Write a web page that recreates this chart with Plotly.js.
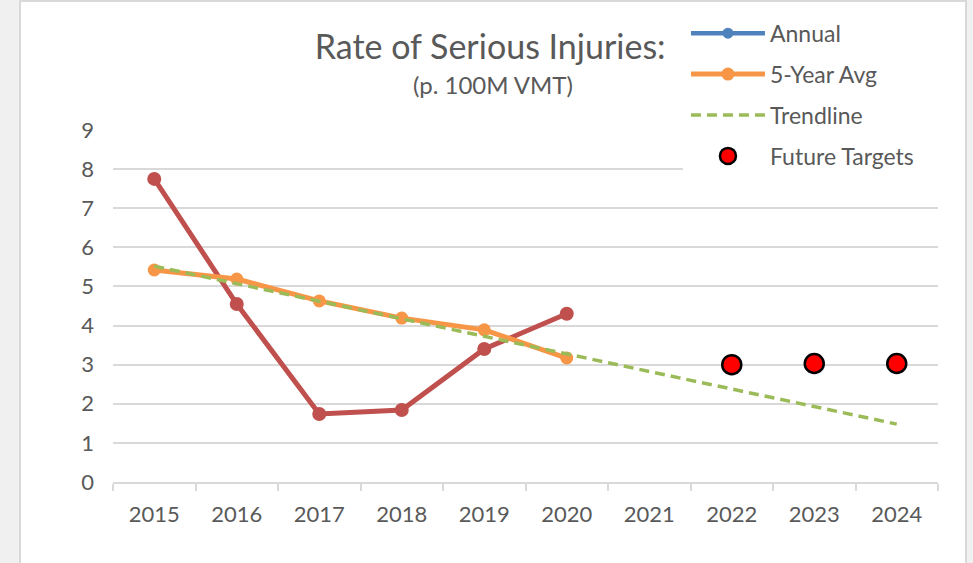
<!DOCTYPE html>
<html>
<head>
<meta charset="utf-8">
<script src="https://cdn.plot.ly/plotly-3.0.1.min.js"></script>
<style>
  html, body { margin: 0; padding: 0; background: #f0f0f0; width: 973px; height: 563px; overflow: hidden; }
  #frame { position: absolute; left: 19px; top: 0; width: 944px; height: 561px;
           border-top: 2px solid #d9d9d9; border-left: 2px solid #d9d9d9; border-right: 2px solid #d9d9d9;
           background: #ffffff; }
  #chart { width: 944px; height: 561px; }
</style>
</head>
<body>
<div id="frame"><div id="chart"></div></div>
<script>
// ---- data ----
const years = ['2015', '2016', '2017', '2018', '2019', '2020', '2021', '2022', '2023', '2024'];
const annualYears = ['2015', '2016', '2017', '2018', '2019', '2020'];
const annual = [7.75, 4.55, 1.74, 1.84, 3.40, 4.30];
const avgYears = ['2015', '2016', '2017', '2018', '2019', '2020'];
const fiveYearAvg = [5.42, 5.19, 4.63, 4.19, 3.89, 3.17];
const trendYears = ['2015', '2024'];
const trendline = [5.52, 1.48];
const targetYears = ['2022', '2023', '2024'];
const targets = [3.00, 3.03, 3.03];
const yTicks = [0, 1, 2, 3, 4, 5, 6, 7, 8, 9];

const FONT = 'Lato, Carlito, Calibri, sans-serif';
const TXT = '#595959';
const GRID = '#d9d9d9';

const traces = [
  { // legend entry for Annual (shown blue in the legend)
    type: 'scatter', mode: 'lines+markers', name: 'Annual',
    x: [null], y: [null], legendgroup: 'g1',
    line: { color: '#4F81BD', width: 4.5 }, marker: { color: '#4F81BD', size: 11 }
  },
  {
    type: 'scatter', mode: 'lines+markers', name: 'Annual data',
    x: annualYears, y: annual, showlegend: false, cliponaxis: false,
    line: { color: '#C0504D', width: 5 }, marker: { color: '#C0504D', size: 14 }
  },
  {
    type: 'scatter', mode: 'lines+markers', name: '5-Year Avg',
    x: avgYears, y: fiveYearAvg, legendgroup: 'g2', cliponaxis: false,
    line: { color: '#F79646', width: 5 }, marker: { color: '#F79646', size: 13 }
  },
  {
    type: 'scatter', mode: 'lines', name: 'Trendline',
    x: trendYears, y: trendline, legendgroup: 'g3', cliponaxis: false,
    line: { color: '#9BBB59', width: 3.5, dash: '10px,6px' }
  },
  {
    type: 'scatter', mode: 'markers', name: 'Future Targets',
    x: targetYears, y: targets, legendgroup: 'g4', cliponaxis: false,
    marker: { color: '#FF0000', size: 19, line: { color: '#000000', width: 2.5 } }
  }
];

const layout = {
  width: 944, height: 561,
  margin: { l: 92, r: 27, t: 128, b: 81, autoexpand: false },
  paper_bgcolor: '#ffffff', plot_bgcolor: '#ffffff',
  font: { family: FONT, color: TXT },
  title: {
    text: 'Rate of Serious Injuries:',
    font: { family: FONT, size: 34, color: TXT },
    xref: 'container', x: 0.497, xanchor: 'center',
    yref: 'container', y: 1 - 45 / 561, yanchor: 'middle'
  },
  annotations: [{
    text: '(p. 100M VMT)', showarrow: false,
    xref: 'paper', x: (472 - 92) / 825, xanchor: 'center',
    yref: 'paper', y: (480 - 82) / 352, yanchor: 'middle',
    font: { family: FONT, size: 24, color: TXT }
  }],
  xaxis: {
    type: 'category', categoryorder: 'array', categoryarray: years,
    range: [-0.5, 9.5], tickson: 'boundaries',
    ticks: 'outside', ticklen: 7, tickwidth: 2, tickcolor: GRID,
    showline: true, linecolor: GRID, linewidth: 2,
    showgrid: false, zeroline: false,
    tickfont: { family: FONT, size: 22, color: TXT },
    ticklabelstandoff: 12, fixedrange: true
  },
  yaxis: {
    range: [0, 9], tickvals: yTicks, ticktext: yTicks.map(String),
    showgrid: true, gridcolor: GRID, gridwidth: 2,
    zeroline: false, showline: false, ticks: '',
    tickfont: { family: FONT, size: 22, color: TXT },
    ticklabelstandoff: 18, fixedrange: true
  },
  legend: {
    x: 0.6945, xanchor: 'left', y: 1.336, yanchor: 'top',
    bgcolor: '#ffffff', borderwidth: 0,
    font: { family: FONT, size: 23, color: TXT },
    traceorder: 'grouped', tracegroupgap: 8, itemwidth: 74
  },
  shapes: [{
    type: 'rect', xref: 'paper', yref: 'paper', layer: 'above',
    x0: (662 - 92) / 825, x1: (944 - 92) / 825 + 0.01, y0: (480 - 185) / 352, y1: 1.01,
    fillcolor: '#ffffff', line: { width: 0 }
  }]
};

Plotly.newPlot('chart', traces, layout, { displayModeBar: false, staticPlot: true });
</script>
</body>
</html>
